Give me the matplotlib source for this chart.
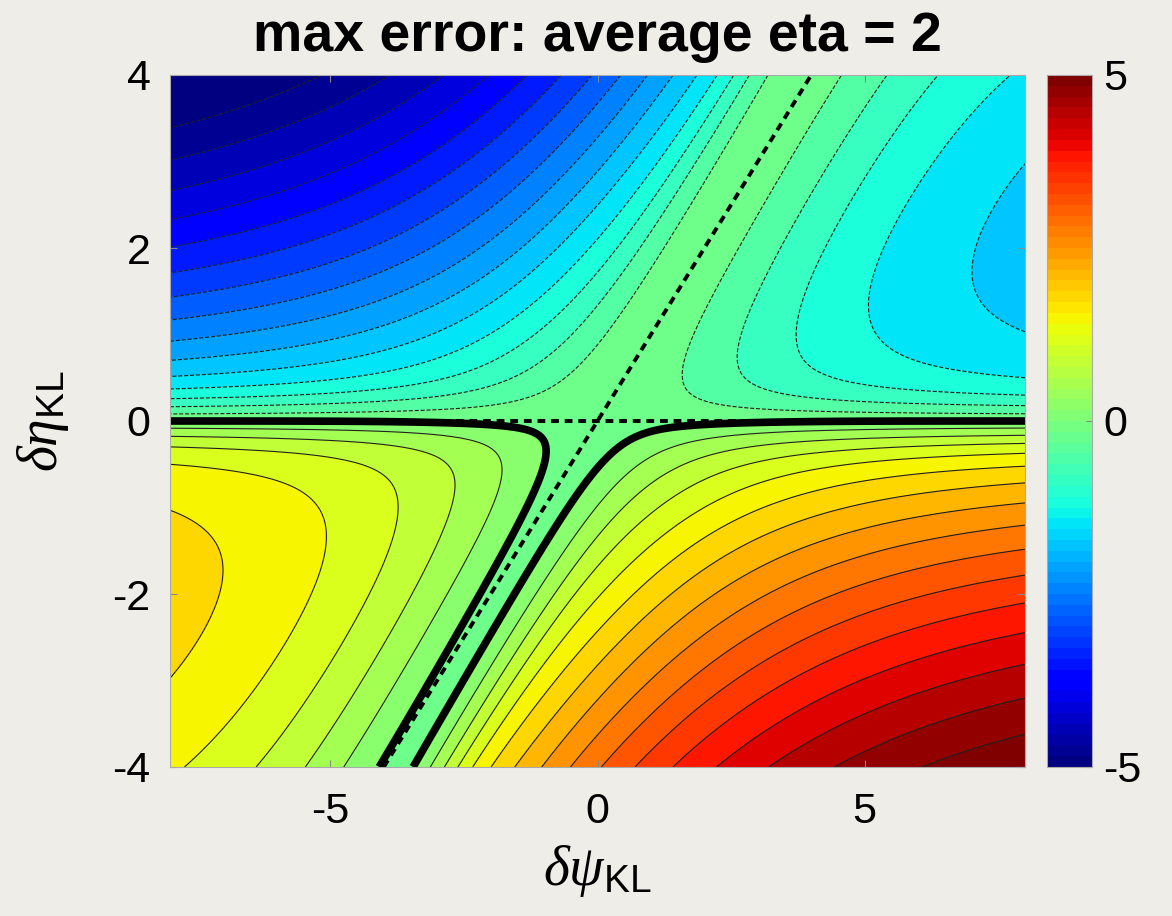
import numpy as np
import matplotlib.pyplot as plt
from matplotlib import colors, cm

plt.rcParams['font.family'] = ['Liberation Sans', 'DejaVu Sans']
plt.rcParams['axes.unicode_minus'] = False
plt.rcParams['mathtext.fontset'] = 'custom'
plt.rcParams['mathtext.it'] = 'Liberation Serif:italic'
plt.rcParams['mathtext.rm'] = 'Liberation Sans'
plt.rcParams['mathtext.sf'] = 'Liberation Sans'

# 坐标范围和等值线
psi = np.linspace(-8, 8, 481)
eta = np.linspace(-4, 4, 321)
levels = np.linspace(-5, 5, 31)
x_ticks = [-5, 0, 5]
y_ticks = [-4, -2, 0, 2, 4]
cbar_ticks = [-5, 0, 5]
title = 'max error: average eta = 2'

# 误差场的参数（按图上读到的等值线估的）
tilt = 0.93          # 谷线方向 u = psi - tilt * eta
jump_amp = 2.5       # eta 过零处的跳变幅度
sat_scale = 3.0
sat_pow = 1.5
decay = 0.12         # |eta| 大时跳变部分略减
fast_part = 0.55     # 跳变里快的那一部分
slow_rate = 0.8
grow_amp_top, grow_amp_bot = 1.08, 1.0   # 左上/右下两个角继续增长的部分
grow_near_top, grow_near_bot = 0.15, 0.2
grow_scale = 6.0
steep0, steep1 = 1.0, 2.0
offset = 0.13        # 谷里略小于零，只在谷附近起作用
offset_width = 3.0

P, E = np.meshgrid(psi, eta)
u = P - tilt * E
a = np.abs(u)
h = np.abs(E)
sat = a**sat_pow / (a**sat_pow + sat_scale**sat_pow)
near = np.where(E > 0, grow_near_top, grow_near_bot)
grow_amp = np.where(E > 0, grow_amp_top, grow_amp_bot)
grow = near * np.tanh((a / 1.3)**2) + (1 - near) * a**2 / (a**2 + grow_scale**2)
side = 0.5 * (1 - np.tanh(u * E))
steep = steep0 + steep1 * a**2 / (a**2 + 1)
rise = fast_part * np.tanh(E * steep) + (1 - fast_part) * np.tanh(E * slow_rate)
shrink = 1 - decay * (h / 4)**4
base = rise * (jump_amp * sat * shrink + grow_amp * h * grow * side)
Z = -base - offset * np.exp(-np.abs(base) / 0.3) * np.exp(-(a / offset_width)**2)

bg = '#EFEDE8'
fig = plt.figure(figsize=(11.72, 9.16), dpi=100, facecolor=bg)
ax = fig.add_axes([170 / 1172, 1 - 767 / 916, 855 / 1172, 692 / 916])

ax.contourf(P, E, Z, levels=levels, cmap='jet', extend='both', zorder=1)
ax.contour(P, E, Z, levels=levels, colors='#202020', linewidths=0.8, zorder=2)

# 参考虚线（压在粗零线下面）
ax.axhline(0, color='k', ls=(0, (2, 1.5)), lw=2.8, zorder=2.5)
ax.axline((0, 0), slope=1, color='k', ls=(0, (2, 1.5)), lw=2.8, zorder=2.5)

ax.contour(P, E, Z, levels=[0], colors='k', linewidths=5.5, zorder=3)

ax.set_xlim(psi[0], psi[-1])
ax.set_ylim(eta[0], eta[-1])
ax.set_xticks(x_ticks)
ax.set_yticks(y_ticks)
ax.tick_params(direction='in', length=5, color='#888888', labelsize=31,
               top=True, right=True)
ax.tick_params(axis='x', pad=18)
ax.tick_params(axis='y', pad=14)
for s in ax.spines.values():
    s.set_color('#AAAAAA')
    s.set_zorder(4)

ax.set_xlabel(r'$\delta\psi_{\mathrm{KL}}$', fontsize=40, labelpad=8)
ax.set_ylabel(r'$\delta\eta_{\mathrm{KL}}$', fontsize=40, labelpad=30)
ax.set_title(title, fontsize=40, fontweight='bold', pad=17)

cax = fig.add_axes([1047 / 1172, 1 - 767 / 916, 45 / 1172, 692 / 916])
sm = cm.ScalarMappable(norm=colors.Normalize(-5, 5), cmap=plt.get_cmap('jet', 64))
cb = fig.colorbar(sm, cax=cax, ticks=cbar_ticks)
cb.ax.tick_params(labelsize=31, length=4, color='#888888', direction='in', pad=8)
cb.outline.set_edgecolor('#AAAAAA')

fig.savefig('out.png', dpi=100, facecolor=bg)
